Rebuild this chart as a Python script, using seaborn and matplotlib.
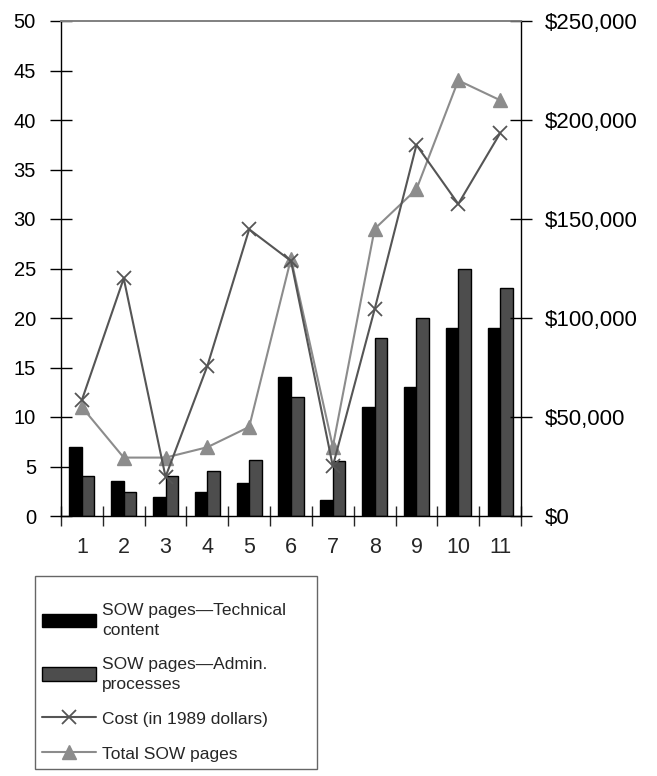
import numpy as np
import pandas as pd
import matplotlib
matplotlib.use("Agg")
import matplotlib.pyplot as plt
import seaborn as sns

# Datos
units = ["1", "2", "3", "4", "5", "6", "7", "8", "9", "10", "11"]
tech_pages = [7.0, 3.5, 1.9, 2.45, 3.3, 14.0, 1.6, 11.0, 13.0, 19.0, 19.0]
admin_pages = [4.0, 2.4, 4.0, 4.5, 5.7, 12.0, 5.6, 18.0, 20.0, 25.0, 23.0]
total_pages = [11.0, 5.9, 5.9, 6.95, 9.0, 26.0, 7.0, 29.0, 33.0, 44.0, 42.0]
cost = [58600, 120000, 19800, 75800, 144800, 128800, 25200, 104400, 187400, 157600, 193300]

left_ticks = [0, 5, 10, 15, 20, 25, 30, 35, 40, 45, 50]
right_ticks = [0, 50000, 100000, 150000, 200000, 250000]
right_labels = ["$0", "$50,000", "$100,000", "$150,000", "$200,000", "$250,000"]

series_names = ["SOW pages\u2014Technical\ncontent", "SOW pages\u2014Admin.\nprocesses",
                "Cost (in 1989 dollars)", "Total SOW pages"]

sns.set_style("white")
plt.rcParams["font.family"] = ["Liberation Sans", "DejaVu Sans"]

bars = pd.DataFrame({
    "unit": units * 2,
    "pages": tech_pages + admin_pages,
    "kind": [series_names[0]] * len(units) + [series_names[1]] * len(units),
})

fig = plt.figure(figsize=(6.57, 7.76), dpi=100)
ax = fig.add_axes([61 / 657, 1 - 516 / 776, 460 / 657, 495 / 776])

sns.barplot(data=bars, x="unit", y="pages", hue="kind", order=units,
            palette=["#000000", "#4d4d4d"], edgecolor="black", linewidth=1,
            width=0.6, gap=0, errorbar=None, legend=False, ax=ax)

pos = np.arange(len(units))
sns.lineplot(x=pos, y=total_pages, ax=ax, color="#8c8c8c", linewidth=1.5,
             marker="^", markersize=10, markeredgecolor="#8c8c8c", markeredgewidth=1)
total_line = ax.lines[-1]

ax2 = ax.twinx()
sns.lineplot(x=pos, y=cost, ax=ax2, color="#555555", linewidth=1.5,
             marker="x", markersize=10, markeredgecolor="#555555", markeredgewidth=1.3)
cost_line = ax2.lines[-1]

ax.set_xlim(-0.5, len(units) - 0.5)
ax.set_ylim(0, 50)
ax2.set_ylim(0, 250000)
ax.set_xlabel("")
ax.set_ylabel("")
ax2.set_ylabel("")

# ejes y
ax.set_yticks(left_ticks)
ax.set_yticklabels([str(t) for t in left_ticks])
ax.tick_params(axis="y", direction="inout", length=16, width=1, pad=10,
               labelsize=14.5, left=True, right=False, colors="black")
ax2.set_yticks(right_ticks)
ax2.set_yticklabels(right_labels)
ax2.tick_params(axis="y", direction="inout", length=16, width=1, pad=9,
                labelsize=16, right=True, left=False, colors="black")

# eje x: marcas entre categorías, etiquetas en el centro
ax.set_xticks(np.arange(len(units) + 1) - 0.5)
ax.set_xticklabels([])
ax.set_xticks(pos, minor=True)
ax.set_xticklabels(units, minor=True)
ax.tick_params(axis="x", which="major", direction="inout", length=15, width=1, bottom=True)
ax.tick_params(axis="x", which="minor", length=0, pad=15, labelsize=15.5)

for a in (ax, ax2):
    for side in ("left", "right", "bottom"):
        a.spines[side].set_color("black")
        a.spines[side].set_linewidth(1)
    a.spines["top"].set_color("#808080")
    a.spines["top"].set_linewidth(1.2)
ax.spines["right"].set_visible(False)
ax2.spines["left"].set_visible(False)
ax2.spines["bottom"].set_visible(False)

handles = [ax.containers[0], ax.containers[1], cost_line, total_line]
leg = fig.legend(handles, series_names, loc="upper left",
                 bbox_to_anchor=(35 / 657, 0.0, 282 / 657, 1 - 576 / 776),
                 mode="expand", borderaxespad=0, fontsize=12.5, frameon=True,
                 fancybox=False, handlelength=3.1, handleheight=0.85,
                 handletextpad=0.35, labelspacing=1.1, borderpad=0.4,
                 title=" ", title_fontsize=1)
for t in leg.get_texts():
    t.set_linespacing(1.4)
leg.get_frame().set_edgecolor("#404040")
leg.get_frame().set_linewidth(1)

fig.savefig("out.png", dpi=100)
